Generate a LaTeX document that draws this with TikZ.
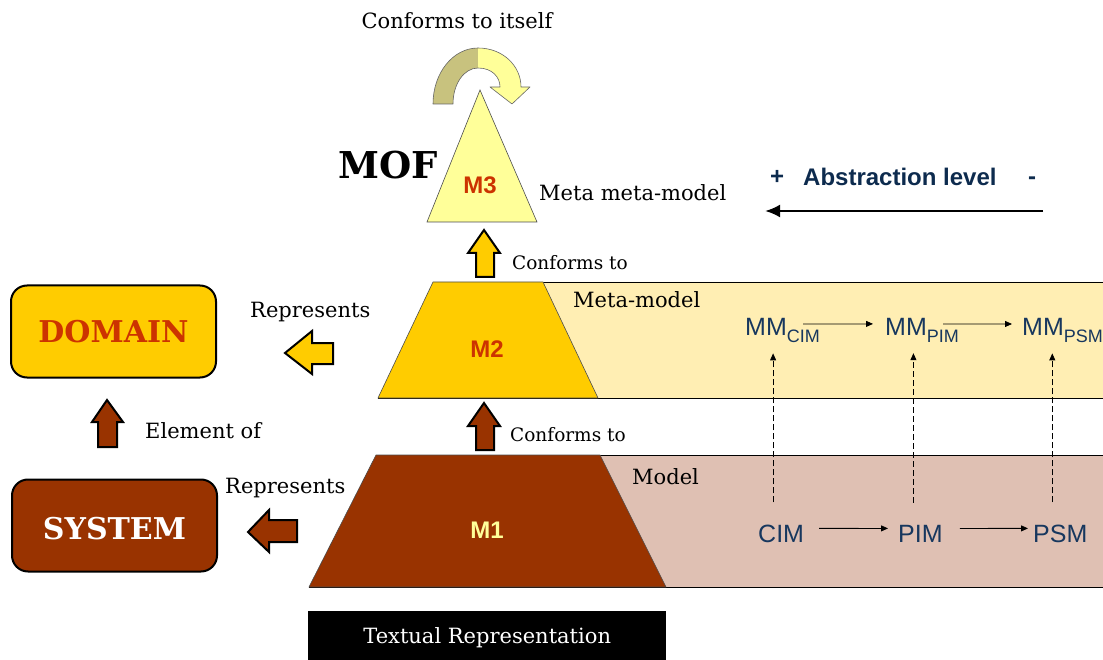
\documentclass[tikz,border=0pt]{standalone}
\usepackage{fontspec}
\setmainfont{DejaVu Serif}
\setsansfont{Liberation Sans}
\usetikzlibrary{arrows.meta,calc}

\definecolor{gold}{HTML}{FFCC00}
\definecolor{rust}{HTML}{993300}
\definecolor{redtxt}{HTML}{CC3300}
\definecolor{paleyellow}{HTML}{FFFF99}
\definecolor{metaband}{HTML}{FFEEB3}
\definecolor{modelband}{HTML}{DFC0B3}
\definecolor{olivearc}{HTML}{C8C27E}
\definecolor{navy}{HTML}{17375E}
\definecolor{deepnavy}{HTML}{0D2B4E}

% lowered subscript used in the meta-model names
\newcommand\lowsub[1]{\raisebox{-7pt}{\fontsize{18}{20}\selectfont #1}}

\begin{document}
\begin{tikzpicture}[x=1pt,y=-1pt,
  lbl/.style={font=\fontsize{21}{25}\selectfont, inner sep=0, anchor=west},
  conflbl/.style={lbl, font=\fontsize{18.5}{22}\selectfont},
  lvl/.style={font=\sffamily\bfseries\fontsize{24}{28}\selectfont, inner sep=0},
  mdl/.style={font=\sffamily\fontsize{25}{30}\selectfont, text=navy, inner sep=0, anchor=base west},
  bigbox/.style={draw=black, line width=2pt, rounded corners=16pt, minimum width=205pt,
                 minimum height=92pt, inner sep=0, font=\bfseries\fontsize{30}{36}\selectfont},
  blockarrow/.style={draw=black, line width=2pt, line join=miter},
  band/.style={draw=black, line width=0.8pt},
  layer/.style={draw=black!70, line width=0.6pt},
  flow/.style={-{Triangle[length=7pt,width=6pt]}, line width=0.8pt},
  trace/.style={flow, dash pattern=on 6pt off 3pt}
]
\useasboundingbox (0,0) rectangle (1103,660);
\clip (0,0) rectangle (1103,660);

% ---- M2 layer: meta-model band
\fill[metaband] (543,282) -- (1110,282) -- (1110,398) -- (598,398) -- cycle;
\draw[band] (433,282) -- (1110,282);
\draw[band] (378,398) -- (1110,398);
\filldraw[fill=gold, layer] (433,282) -- (543,282) -- (598,398) -- (378,398) -- cycle;
\node[lvl, text=redtxt] (m2) at (487,349) {M2};

% ---- M1 layer: model band
\fill[modelband] (600,455) -- (1110,455) -- (1110,587) -- (666,587) -- cycle;
\draw[band] (376,455) -- (1110,455);
\draw[band] (309,587) -- (1110,587);
\filldraw[fill=rust, layer] (376,455) -- (600,455) -- (666,587) -- (309,587) -- cycle;
\node[lvl, text=paleyellow] (m1) at (487,530) {M1};

% ---- M3 layer: meta meta-model
\filldraw[fill=paleyellow, layer] (480,90) -- (537,222) -- (427,222) -- cycle;
\node[lvl, text=redtxt] (m3) at (480,185) {M3};

% self-conformance U-turn arrow: dark back half, light front half with the head
\fill[olivearc]
  (433,104) .. controls (433,73) and (453,48) .. (478,48)
  -- (478,68) .. controls (464,68) and (453,84) .. (453,104) -- cycle;
\fill[paleyellow]
  (478,48) .. controls (503,48) and (521,66) .. (521,87)
  -- (530,87) -- (512,104) -- (490,87) -- (500,87)
  .. controls (500,77) and (492,68) .. (478,68) -- cycle;
\draw[draw=black!60, line width=0.6pt, line join=round]
  (433,104) .. controls (433,73) and (453,48) .. (478,48)
  .. controls (503,48) and (521,66) .. (521,87)
  -- (530,87) -- (512,104) -- (490,87) -- (500,87)
  .. controls (500,77) and (492,68) .. (478,68)
  .. controls (464,68) and (453,84) .. (453,104) -- cycle;

\node[lbl, anchor=center] (self) at (457,21) {Conforms to itself};
\node[font=\bfseries\fontsize{37}{40}\selectfont, inner sep=0] (mof) at (388,165) {MOF};
\node[lbl] (mmm) at (539,193) {Meta meta-model};

% ---- conformance block arrows
\filldraw[fill=gold, blockarrow] (484,230) -- (500,253) -- (494,253) -- (494,277)
  -- (476,277) -- (476,253) -- (468,253) -- cycle;
\node[conflbl] (conf1) at (512,263) {Conforms to};
\filldraw[fill=rust, blockarrow] (484,403) -- (500,426) -- (494,426) -- (494,450)
  -- (476,450) -- (476,426) -- (468,426) -- cycle;
\node[conflbl] (conf2) at (510,435) {Conforms to};

\node[lbl] (metamodel) at (573,300) {Meta-model};
\node[lbl] (model) at (632,477) {Model};

% ---- domain and system
\node[bigbox, fill=gold, text=redtxt] (domain) at (113.5,331.5) {DOMAIN};
\node[bigbox, fill=rust, text=white, text height=28pt, text depth=0pt] (system) at (114.5,525.5) {SYSTEM};

\filldraw[fill=gold, blockarrow] (285,353) -- (312,331) -- (312,343) -- (333,343)
  -- (333,364) -- (312,364) -- (312,374) -- cycle;
\node[lbl] (rep1) at (250,312) {Represents};
\filldraw[fill=rust, blockarrow] (248,532) -- (269,510) -- (269,520) -- (297,520)
  -- (297,542) -- (269,542) -- (269,552) -- cycle;
\node[lbl] (rep2) at (225,488) {Represents};
\filldraw[fill=rust, blockarrow] (107,400) -- (123,422) -- (117,422) -- (117,447)
  -- (98,447) -- (98,422) -- (92,422) -- cycle;
\node[lbl] (elem) at (145,431) {Element of};

% ---- abstraction level
\node[lvl, text=deepnavy] (plus) at (777,177) {+};
\node[lvl, text=deepnavy, anchor=west] (abs) at (803,177) {Abstraction level};
\node[lvl, text=deepnavy] (minus) at (1032,181) {-};
\coordinate (absR) at (1043,211);
\coordinate (absL) at (765,211);
\draw[-{Latex[length=15pt,width=13pt]}, line width=2.5pt] (absR) -- (absL);

% ---- MDA chain
\node[mdl] (mmcim) at (745,335) {MM\lowsub{CIM}};
\node[mdl] (mmpim) at (885,335) {MM\lowsub{PIM}};
\node[mdl] (mmpsm) at (1022,335) {MM\lowsub{PSM}};
\node[mdl] (cim) at (758,542) {CIM};
\node[mdl] (pim) at (898,542) {PIM};
\node[mdl] (psm) at (1033,542) {PSM};

\draw[flow] ([xshift=-17pt,yshift=6pt]mmcim.east) -- ([xshift=-12pt,yshift=6pt]mmpim.west);
\draw[flow] ([xshift=-16pt,yshift=6pt]mmpim.east) -- ([xshift=-10pt,yshift=6pt]mmpsm.west);
\draw[flow] ([xshift=15pt,yshift=5pt]cim.east) -- ([xshift=-10pt,yshift=5pt]pim.west);
\draw[flow] ([xshift=17pt,yshift=5pt]pim.east) -- ([xshift=-5pt,yshift=5pt]psm.west);

\coordinate (t1) at ([xshift=-8pt,yshift=22pt]cim.north);
\coordinate (t2) at ([xshift=-7pt,yshift=22pt]pim.north);
\coordinate (t3) at ([xshift=-8pt,yshift=22pt]psm.north);
\draw[trace] (t1) -- ($(t1 |- mmcim.south)+(0,11)$);
\draw[trace] (t2) -- ($(t2 |- mmpim.south)+(0,11)$);
\draw[trace] (t3) -- ($(t3 |- mmpsm.south)+(0,11)$);

% ---- textual representation bar
\node[fill=black, text=white, minimum width=358pt, minimum height=54pt, inner sep=0,
      anchor=north west, font=\fontsize{21}{25}\selectfont] (textual) at (308,611)
      {Textual Representation};
\end{tikzpicture}
\end{document}
